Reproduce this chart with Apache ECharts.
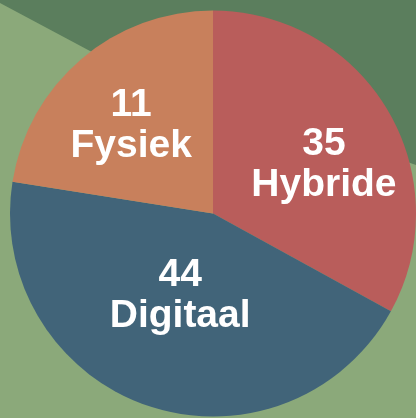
<!DOCTYPE html>
<html>
<head>
<meta charset="utf-8">
<script src="https://cdn.jsdelivr.net/npm/echarts@6/dist/echarts.min.js"></script>
<style>
    html, body { margin: 0; padding: 0; }
    #chart { width: 416px; height: 418px; }
</style>
</head>
<body>
<div id="chart"></div>
<script>
'use strict';

// slices, clockwise from 12 o'clock
var categories = ['Hybride', 'Digitaal', 'Fysiek'];
// numbers printed on the slices
var printed = [35, 44, 11];
// slice sizes as drawn (angles, in %)
var shares = [33, 44.5, 22.5];

var colors = ['#b95d5b', '#416479', '#c8805c'];
var labelOffsets = [[21, 4], [1, -17], [-14, -8]];

var myChart = echarts.init(document.getElementById('chart'));

var data = categories.map(function (name, i) {
    return {
        name: name,
        value: shares[i],
        printed: printed[i],
        itemStyle: { color: colors[i] },
        label: { offset: labelOffsets[i] }
    };
});

var option = {
    backgroundColor: '#8ba97a',
    animation: false,
    graphic: [{
        type: 'polygon',
        z: 0,
        shape: {
            points: [[0, 0], [0, 3], [90, 51], [416, 165], [416, 0]]
        },
        style: { fill: '#5b7e5d' }
    }],
    series: [{
        type: 'pie',
        z: 2,
        center: [213, 213.5],
        radius: 203,
        startAngle: 90,
        clockwise: true,
        label: {
            show: true,
            position: 'inside',
            color: '#ffffff',
            fontFamily: 'Liberation Sans, Arial, sans-serif',
            fontWeight: 'bold',
            fontSize: 39,
            lineHeight: 41,
            formatter: function (p) {
                return p.data.printed + '\n' + p.name;
            }
        },
        labelLine: { show: false },
        emphasis: { disabled: true },
        data: data
    }]
};

myChart.setOption(option);
</script>
</body>
</html>
